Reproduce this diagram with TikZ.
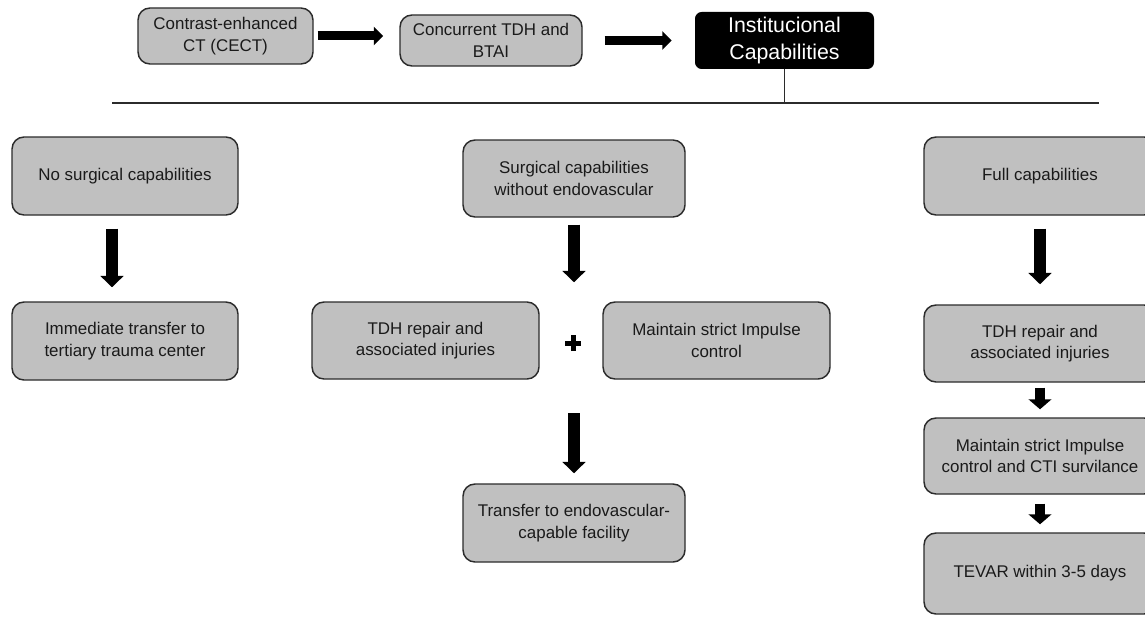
\documentclass[tikz,border=0pt]{standalone}
\usepackage{fontspec}
\setmainfont{Liberation Sans}
\usepackage{tikz}
\usetikzlibrary{arrows.meta}
\definecolor{boxgray}{HTML}{C0C0C0}
\definecolor{edgegray}{HTML}{2B2B2B}
\definecolor{inkgray}{HTML}{1A1A1A}
\def\drawfat{\draw[line width=6.75pt,-{Triangle[width=13.5pt,length=7pt]}]}
\def\drawdown{\draw[line width=9pt,-{Triangle[width=17pt,length=8.5pt]}]}
\def\drawstep{\draw[line width=7.5pt,-{Triangle[width=17pt,length=7.5pt]}]}

\begin{document}
\begin{tikzpicture}[x=0.75pt,y=-0.75pt,inner sep=1mm,
  box/.style={draw=edgegray,line width=1.1pt,fill=boxgray,rounded corners=9pt,
    text=inkgray,align=center,font=\fontsize{12.7}{16}\selectfont,
    minimum width=169.5pt,minimum height=58.5pt},
  blackbox/.style={fill=black,rounded corners=5pt,text=white,align=center,
    font=\fontsize{16}{20}\selectfont,minimum width=134.25pt,minimum height=42.75pt}]
\clip (0,0) rectangle (1145,617);
% top row
\node[box,minimum width=131.25pt,minimum height=42pt] (cect) at (225.5,36) {Contrast-enhanced\\CT (CECT)};
\node[box,minimum width=136.5pt,minimum height=38.25pt] (tdhbtai) at (491,40.5) {Concurrent TDH and\\BTAI};
\node[blackbox] (inst) at (784.5,40.5) {Institucional\\Capabilities};
\drawfat[shorten <=3pt,shorten >=12pt] (cect) -- (cect -| tdhbtai.west);
\drawfat[shorten <=16.5pt,shorten >=17.25pt] (tdhbtai) -- (inst);
\coordinate (busl) at (112,103);
\coordinate (busr) at (1099,103);
\draw[edgegray,line width=1.1pt] (busl) -- (busr);
\draw[edgegray,line width=1.1pt] (inst) -- (inst |- busl);
% left column
\node[box] (nosurg) at (125,176) {No surgical capabilities};
\node[box] (immed) at (125,341) {Immediate transfer to\\tertiary trauma center};
\drawdown[shorten <=9.75pt,shorten >=10.5pt] ([xshift=-9.75pt]nosurg.south) -- ([xshift=-9.75pt]immed.north);
% middle column
\node[box,minimum width=166.5pt,minimum height=57.75pt] (surg) at (574,178.5) {Surgical capabilities\\without endovascular};
\node[box,minimum width=170.25pt,minimum height=57.75pt] (tdhrep) at (425.5,340.5) {TDH repair and\\associated injuries};
\node[box,minimum width=170.25pt,minimum height=57.75pt] (impulse) at (716.5,340.5) {Maintain strict Impulse\\control};
\node[box,minimum width=166.5pt] (transfer) at (574,523) {Transfer to endovascular-\\capable facility};
\coordinate (plus) at (573,343);
\coordinate (midrow) at (574,413);
\draw[line width=3.75pt] ([xshift=-6pt]plus) -- ([xshift=6pt]plus);
\draw[line width=3.75pt] ([yshift=-6pt]plus) -- ([yshift=6pt]plus);
\drawdown[shorten <=5.25pt,shorten >=14.25pt] (surg) -- (surg |- tdhrep.north);
\drawdown[shorten >=7.5pt] (midrow) -- (transfer);
% right column
\node[box,minimum width=174pt] (full) at (1040,176) {Full capabilities};
\node[box,minimum width=174pt,minimum height=57.75pt] (tdhfull) at (1040,343.5) {TDH repair and\\associated injuries};
\node[box,minimum width=174pt,minimum height=57pt] (cti) at (1040,456) {Maintain strict Impulse\\control and CTI survilance};
\node[box,minimum width=174pt,minimum height=60.75pt] (tevar) at (1040,573.5) {TEVAR within 3-5 days};
\drawdown[shorten <=9.75pt,shorten >=15pt] (full) -- (tdhfull);
\drawstep[shorten <=3.75pt,shorten >=6pt] (tdhfull) -- (cti);
\drawstep[shorten <=6.75pt,shorten >=6pt] (cti) -- (tevar);
\end{tikzpicture}
\end{document}
